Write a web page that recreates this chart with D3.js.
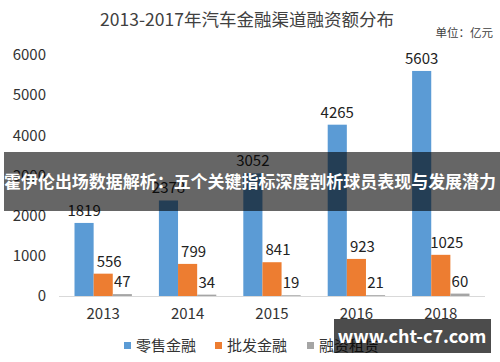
<!DOCTYPE html>
<html>
<head>
<meta charset="utf-8">
<script src="https://cdn.jsdelivr.net/npm/d3@7"></script>
<style>
  body { margin: 0; background: #fff; }
  svg { font-family: "Noto Sans CJK SC", "Noto Sans", sans-serif; }
</style>
</head>
<body>
<svg width="500" height="362"></svg>
<script>
// chart data
const years = ['2013', '2014', '2015', '2016', '2018']
const seriesNames = ['零售金融', '批发金融', '融资租赁']
const retail = [1819, 2378, 3052, 4265, 5603]
const wholesale = [556, 799, 841, 923, 1025]
const leasing = [47, 34, 19, 21, 60]
const yTicks = [0, 1000, 2000, 3000, 4000, 5000, 6000]
const colors = ['#5b9bd5', '#ed7d31', '#a5a5a5']

const svg = d3.select('svg')

const x = d3.scaleBand()
    .domain(years)
    .range([61, 483])
    .paddingInner(0.32)
    .paddingOuter(0.16)

const x1 = d3.scaleBand()
    .domain(seriesNames)
    .range([0, x.bandwidth()])

const y = d3.scaleLinear()
    .domain([0, 6000])
    .range([296, 55])

// title
svg.append('text')
    .attr('x', 247)
    .attr('y', 26)
    .attr('text-anchor', 'middle')
    .attr('font-size', 17.5)
    .attr('fill', '#404040')
    .text('2013-2017年汽车金融渠道融资额分布')

svg.append('text')
    .attr('x', 493)
    .attr('y', 37)
    .attr('text-anchor', 'end')
    .attr('font-size', 11.5)
    .attr('fill', '#404040')
    .text('单位：亿元')

// y axis (labels only)
const yAxis = svg.append('g')
    .attr('transform', 'translate(46,0)')
    .call(d3.axisLeft(y).tickValues(yTicks).tickFormat(d3.format('d')).tickSize(0).tickPadding(0))
yAxis.select('.domain').remove()
yAxis.selectAll('text')
    .attr('font-size', 15)
    .attr('fill', '#333')
    .attr('font-family', '"Noto Sans CJK SC", "Noto Sans", sans-serif')

// x axis
const xAxis = svg.append('g')
    .attr('transform', 'translate(0,' + y(0) + ')')
    .call(d3.axisBottom(x).tickSize(0).tickPadding(12).tickSizeOuter(0))
xAxis.select('.domain')
    .attr('stroke', '#d9d9d9')
    .attr('d', 'M59,0.5H485')
xAxis.selectAll('text')
    .attr('font-size', 15)
    .attr('fill', '#333')
    .attr('font-family', '"Noto Sans CJK SC", "Noto Sans", sans-serif')

// bars
const allSeries = [retail, wholesale, leasing]
const labelShift = [0, 6, 0]
allSeries.forEach((vals, si) => {
  const g = svg.append('g')
  g.selectAll('rect')
    .data(vals)
    .enter().append('rect')
      .attr('x', (d, i) => x(years[i]) + x1(seriesNames[si]))
      .attr('y', d => y(d))
      .attr('width', x1.bandwidth())
      .attr('height', d => y(0) - y(d))
      .attr('fill', colors[si])
  g.selectAll('text')
    .data(vals)
    .enter().append('text')
      .attr('x', (d, i) => x(years[i]) + x1(seriesNames[si]) + x1.bandwidth() / 2 + labelShift[si])
      .attr('y', d => y(d) - 7)
      .attr('text-anchor', 'middle')
      .attr('font-size', 15)
      .attr('fill', '#222')
      .text(d => d)
})

// legend
const legendX = [124, 215, 307]
const legend = svg.append('g')
seriesNames.forEach((name, i) => {
  legend.append('rect')
    .attr('x', legendX[i])
    .attr('y', 342)
    .attr('width', 7)
    .attr('height', 7)
    .attr('fill', colors[i])
  legend.append('text')
    .attr('x', legendX[i] + 12)
    .attr('y', 351)
    .attr('font-size', 15)
    .attr('fill', '#333')
    .text(name)
})

// overlay banner
svg.append('rect')
    .attr('x', 4)
    .attr('y', 152)
    .attr('width', 496)
    .attr('height', 59)
    .attr('fill', '#000')
    .attr('opacity', 0.6)
svg.append('text')
    .attr('x', 4)
    .attr('y', 188)
    .attr('font-size', 17)
    .attr('font-weight', 'bold')
    .attr('fill', '#fff')
    .attr('textLength', 492)
    .attr('lengthAdjust', 'spacingAndGlyphs')
    .text('霍伊伦出场数据解析：五个关键指标深度剖析球员表现与发展潜力')

// watermark
svg.append('rect')
    .attr('x', 334)
    .attr('y', 319)
    .attr('width', 157)
    .attr('height', 34)
    .attr('fill', '#000')
    .attr('opacity', 0.7)
svg.append('text')
    .attr('x', 412)
    .attr('y', 343)
    .attr('text-anchor', 'middle')
    .attr('font-size', 18)
    .attr('font-weight', 'bold')
    .attr('fill', '#fff')
    .text('www.cht-c7.com')
</script>
</body>
</html>
